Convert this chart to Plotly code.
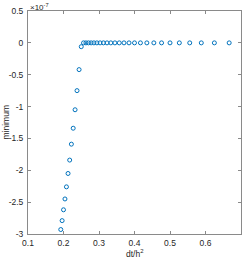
import plotly.graph_objects as go

# dt/h^2 values
dt_over_h2 = [0.6667, 0.6250, 0.5882, 0.5556, 0.5263, 0.5000, 0.4762, 0.4545,
              0.4348, 0.4167, 0.4000, 0.3846, 0.3704, 0.3571, 0.3448, 0.3333,
              0.3226, 0.3125, 0.3030, 0.2941, 0.2857, 0.2778, 0.2703, 0.2632,
              0.2564, 0.2500, 0.2439, 0.2381, 0.2326, 0.2273, 0.2222, 0.2174,
              0.2128, 0.2083, 0.2041, 0.2000, 0.1961, 0.1923]
# minimum values, in units of 1e-7
minimum_e7 = [0, 0, 0, 0, 0, 0, 0, 0,
              0, 0, 0, 0, 0, 0, 0, 0,
              0, 0, 0, 0, 0, 0, 0, 0,
              0, -0.06, -0.42, -0.75, -1.05, -1.34, -1.59, -1.84,
              -2.05, -2.26, -2.45, -2.62, -2.79, -2.93]

x_ticks = [0.1, 0.2, 0.3, 0.4, 0.5, 0.6, 0.7]
x_ticklabels = ["0.1", "0.2", "0.3", "0.4", "0.5", "0.6", "0.7"]
y_ticks = [-3, -2.5, -2, -1.5, -1, -0.5, 0, 0.5]
y_ticklabels = ["-3", "-2.5", "-2", "-1.5", "-1", "-0.5", "0", "0.5"]

FONT = "Liberation Sans, Arial, sans-serif"
TXT = "#262626"
AX = "#8a8a8a"

fig = go.Figure(go.Scatter(
    x=dt_over_h2, y=minimum_e7, mode="markers",
    marker=dict(symbol="circle-open", size=4, color="#0072BD",
                line=dict(width=1, color="#0072BD")),
    showlegend=False, hoverinfo="skip"))

axis_common = dict(showgrid=False, zeroline=False, showline=True, linecolor=AX,
                   linewidth=1, mirror="ticks", ticks="inside", ticklen=3,
                   tickcolor=AX, tickwidth=1, automargin=False,
                   tickfont=dict(family=FONT, size=8.5, color=TXT))

fig.update_xaxes(range=[0.1, 0.7], tickvals=x_ticks, ticktext=x_ticklabels,
                 ticklabelstandoff=1, **axis_common)
fig.update_yaxes(range=[-3, 0.5], tickvals=y_ticks, ticktext=y_ticklabels,
                 ticklabelstandoff=2, **axis_common)

fig.add_annotation(text="×10<sup>-7</sup>", xref="paper", yref="paper", x=0, y=1,
                   xanchor="left", yanchor="bottom", showarrow=False,
                   font=dict(family=FONT, size=8, color=TXT), yshift=-3)
fig.add_annotation(text="dt/h<sup>2</sup>", xref="paper", yref="paper", x=0.5, y=0,
                   xanchor="center", yanchor="top", showarrow=False,
                   font=dict(family=FONT, size=8.5, color=TXT), yshift=-12)
fig.add_annotation(text="minimum", xref="paper", yref="paper", x=0, y=0.5,
                   xanchor="right", yanchor="middle", showarrow=False, textangle=-90,
                   font=dict(family=FONT, size=8.5, color=TXT), xshift=-16)

fig.update_layout(width=247, height=259, margin=dict(l=28, r=6, t=11, b=25, autoexpand=False),
                  paper_bgcolor="white", plot_bgcolor="white")

fig.write_html("out.html", config={"displayModeBar": False},
               post_script="document.body.style.margin='0';document.body.style.padding='0';")
